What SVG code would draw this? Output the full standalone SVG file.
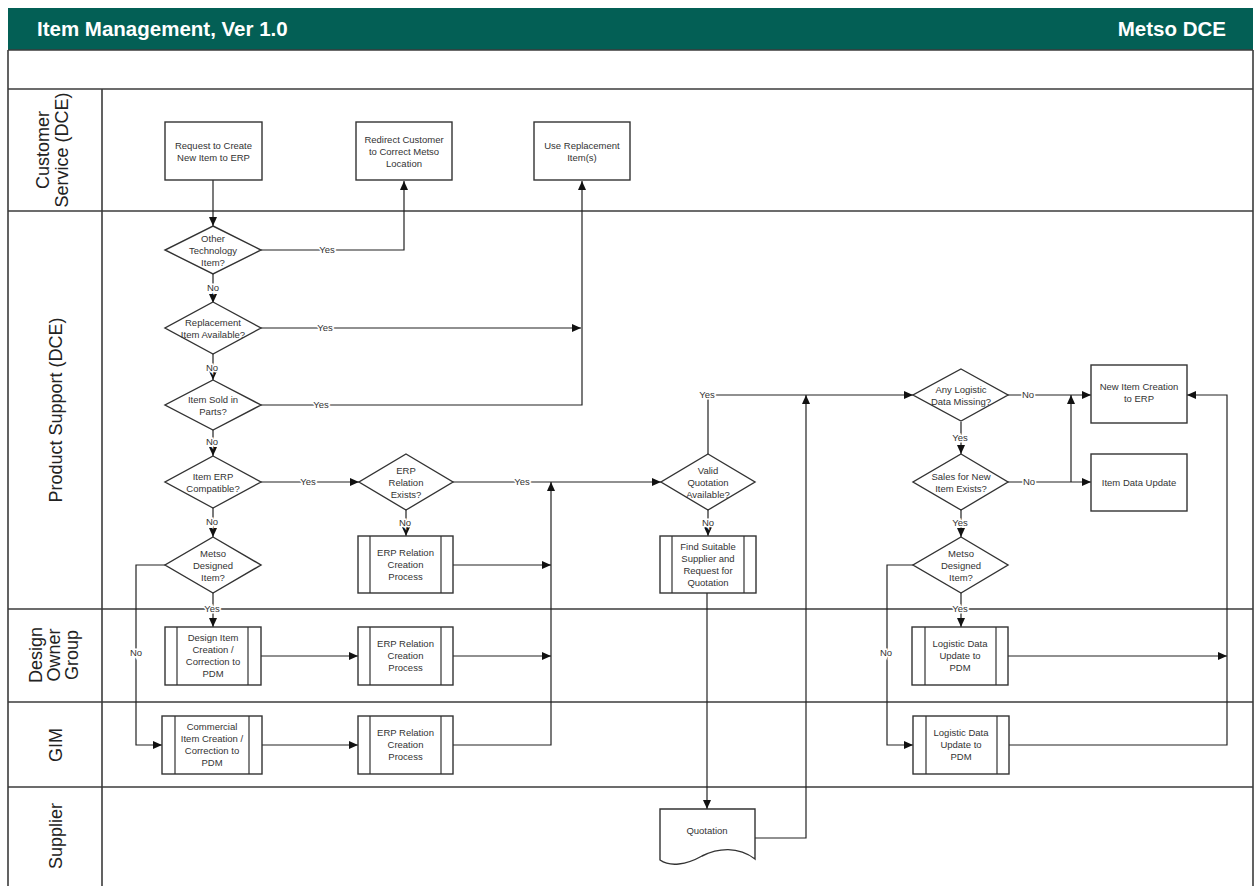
<svg xmlns="http://www.w3.org/2000/svg" width="1259" height="886" viewBox="0 0 1259 886">
  <style>
    .lane { stroke: #3c3c3c; stroke-width: 1.6; fill: none; }
    .lanelbl { font-family: "Liberation Sans", Arial, sans-serif; font-size: 18px; fill: #222; text-anchor: middle; }
    .title { font-family: "Liberation Sans", Arial, sans-serif; font-weight: bold; font-size: 20.5px; fill: #fff; }
    .box { fill: #fff; stroke: #333; stroke-width: 1.4; }
    .bar { stroke: #333; stroke-width: 1.2; }
    .t { font-family: "Liberation Sans", Arial, sans-serif; font-size: 9.5px; fill: #333; text-anchor: middle; }
    .conn path { fill: none; stroke: #222; stroke-width: 1.2; }
    .conn path.arr { marker-end: url(#ah); }
    .lbl { font-family: "Liberation Sans", Arial, sans-serif; font-size: 9.5px; fill: #333; text-anchor: middle; stroke: #fff; stroke-width: 3; paint-order: stroke; }
  </style>
  <defs>
    <marker id="ah" markerUnits="userSpaceOnUse" markerWidth="10" markerHeight="8" refX="9" refY="4" orient="auto">
      <path d="M0,0 L9,4 L0,8 z" fill="#111"/>
    </marker>
  </defs>

  <rect width="1259" height="886" fill="#fff"/>

  <!-- header bar -->
  <g id="header">
    <rect x="8" y="8" width="1245" height="42" fill="#035f55"/>
    <text class="title" x="37" y="36">Item Management, Ver 1.0</text>
    <text class="title" x="1226" y="36" text-anchor="end">Metso DCE</text>
  </g>

  <!-- swimlane frame -->
  <g id="lanes">
    <path class="lane" d="M8,50 H1253 M8,89 H1253 M8,211 H1253 M8,609 H1253 M8,702 H1253 M8,787 H1253"/>
    <path class="lane" d="M8,50 V886 M1253,50 V886 M102,89 V886"/>
    <text class="lanelbl" transform="translate(0,150) rotate(-90)"><tspan x="0" y="49">Customer</tspan><tspan x="0" y="68">Service (DCE)</tspan></text>
    <text class="lanelbl" transform="translate(0,410) rotate(-90)"><tspan x="0" y="62">Product Support (DCE)</tspan></text>
    <text class="lanelbl" transform="translate(0,655) rotate(-90)"><tspan x="0" y="42">Design</tspan><tspan x="0" y="60">Owner</tspan><tspan x="0" y="78">Group</tspan></text>
    <text class="lanelbl" transform="translate(0,745) rotate(-90)"><tspan x="0" y="62">GIM</tspan></text>
    <text class="lanelbl" transform="translate(0,836) rotate(-90)"><tspan x="0" y="62">Supplier</tspan></text>
  </g>

  <!-- connectors -->
  <g id="connectors" class="conn">
    <path class="arr" d="M213,180 V226"/>
    <path class="arr" d="M261,250 H404 V181"/>
    <path class="arr" d="M213,274 V303"/>
    <path class="arr" d="M261,328 H581"/>
    <path class="arr" d="M261,405 H582 V181"/>
    <path class="arr" d="M213,353 V380"/>
    <path class="arr" d="M213,430 V456"/>
    <path class="arr" d="M261,482 H359"/>
    <path class="arr" d="M213,508 V537"/>
    <path class="arr" d="M213,593 V627"/>
    <path class="arr" d="M165,565 H136 V745 H162"/>
    <path class="arr" d="M406,510 V536"/>
    <path class="arr" d="M453,482 H661"/>
    <path class="arr" d="M453,565 H551"/>
    <path class="arr" d="M261,656 H358"/>
    <path class="arr" d="M453,656 H551"/>
    <path class="arr" d="M262,745 H358"/>
    <path class="arr" d="M453,745 H551 V482"/>
    <path class="arr" d="M708,510 V536"/>
    <path class="arr" d="M708,454 V395 H913"/>
    <path class="arr" d="M707,593 V809"/>
    <path class="arr" d="M755,838 H806 V395"/>
    <path class="arr" d="M1008,395 H1091"/>
    <path class="arr" d="M961,422 V454"/>
    <path class="arr" d="M1008,482 H1091"/>
    <path class="arr" d="M1071,482 V395"/>
    <path class="arr" d="M961,510 V537"/>
    <path class="arr" d="M961,593 V627"/>
    <path class="arr" d="M913,565 H887 V745 H913"/>
    <path class="arr" d="M1008,656 H1227"/>
    <path class="arr" d="M1009,745 H1227 V395 H1187"/>

    <text class="lbl" x="327" y="253">Yes</text>
    <text class="lbl" x="213" y="291">No</text>
    <text class="lbl" x="325" y="331">Yes</text>
    <text class="lbl" x="212" y="371">No</text>
    <text class="lbl" x="321" y="408">Yes</text>
    <text class="lbl" x="212" y="445">No</text>
    <text class="lbl" x="308" y="485">Yes</text>
    <text class="lbl" x="212" y="525">No</text>
    <text class="lbl" x="212" y="612">Yes</text>
    <text class="lbl" x="136" y="656">No</text>
    <text class="lbl" x="405" y="526">No</text>
    <text class="lbl" x="522" y="485">Yes</text>
    <text class="lbl" x="708" y="526">No</text>
    <text class="lbl" x="707" y="398">Yes</text>
    <text class="lbl" x="1028" y="398">No</text>
    <text class="lbl" x="960" y="441">Yes</text>
    <text class="lbl" x="1029" y="485">No</text>
    <text class="lbl" x="960" y="526">Yes</text>
    <text class="lbl" x="960" y="612">Yes</text>
    <text class="lbl" x="886" y="656">No</text>
  </g>

  <!-- Customer Service lane -->
  <g id="request-new-item">
    <rect class="box" x="165" y="122" width="97" height="58"/>
    <text class="t"><tspan x="213.5" y="148.5">Request to Create</tspan><tspan x="213.5" y="160.5">New Item to ERP</tspan></text>
  </g>
  <g id="redirect-customer">
    <rect class="box" x="356" y="122" width="96" height="58"/>
    <text class="t"><tspan x="404" y="142.5">Redirect Customer</tspan><tspan x="404" y="154.5">to Correct Metso</tspan><tspan x="404" y="166.5">Location</tspan></text>
  </g>
  <g id="use-replacement">
    <rect class="box" x="534" y="122" width="96" height="58"/>
    <text class="t"><tspan x="582" y="148.5">Use Replacement</tspan><tspan x="582" y="160.5">Item(s)</tspan></text>
  </g>

  <!-- Product Support lane -->
  <g id="other-technology">
    <path class="box" d="M213,226 L261,250 L213,274 L165,250 Z"/>
    <text class="t"><tspan x="213" y="241.5">Other</tspan><tspan x="213" y="253.5">Technology</tspan><tspan x="213" y="265.5">Item?</tspan></text>
  </g>
  <g id="replacement-available">
    <path class="box" d="M213,302 L261,328 L213,354 L165,328 Z"/>
    <text class="t"><tspan x="213" y="325.5">Replacement</tspan><tspan x="213" y="337.5">Item Available?</tspan></text>
  </g>
  <g id="sold-in-parts">
    <path class="box" d="M213,380 L261,405 L213,430 L165,405 Z"/>
    <text class="t"><tspan x="213" y="402.5">Item Sold in</tspan><tspan x="213" y="414.5">Parts?</tspan></text>
  </g>
  <g id="erp-compatible">
    <path class="box" d="M213,456 L261,482 L213,508 L165,482 Z"/>
    <text class="t"><tspan x="213" y="479.5">Item ERP</tspan><tspan x="213" y="491.5">Compatible?</tspan></text>
  </g>
  <g id="metso-designed-1">
    <path class="box" d="M213,537 L261,565 L213,593 L165,565 Z"/>
    <text class="t"><tspan x="213" y="556.5">Metso</tspan><tspan x="213" y="568.5">Designed</tspan><tspan x="213" y="580.5">Item?</tspan></text>
  </g>
  <g id="erp-relation-exists">
    <path class="box" d="M406,454 L453,482 L406,510 L359,482 Z"/>
    <text class="t"><tspan x="406" y="473.5">ERP</tspan><tspan x="406" y="485.5">Relation</tspan><tspan x="406" y="497.5">Exists?</tspan></text>
  </g>
  <g id="erp-relation-process-1">
    <rect class="box" x="358" y="536" width="95" height="57"/>
    <path class="bar" d="M370,536 V593 M441,536 V593"/>
    <text class="t"><tspan x="405.5" y="555.5">ERP Relation</tspan><tspan x="405.5" y="567.5">Creation</tspan><tspan x="405.5" y="579.5">Process</tspan></text>
  </g>
  <g id="valid-quotation">
    <path class="box" d="M708,454 L755,482 L708,510 L661,482 Z"/>
    <text class="t"><tspan x="708" y="473.5">Valid</tspan><tspan x="708" y="485.5">Quotation</tspan><tspan x="708" y="497.5">Available?</tspan></text>
  </g>
  <g id="find-supplier">
    <rect class="box" x="660" y="536" width="96" height="57"/>
    <path class="bar" d="M672,536 V593 M744,536 V593"/>
    <text class="t"><tspan x="708" y="549.5">Find Suitable</tspan><tspan x="708" y="561.5">Supplier and</tspan><tspan x="708" y="573.5">Request for</tspan><tspan x="708" y="585.5">Quotation</tspan></text>
  </g>
  <g id="logistic-data-missing">
    <path class="box" d="M961,369 L1008,395 L961,421 L913,395 Z"/>
    <text class="t"><tspan x="961" y="392.5">Any Logistic</tspan><tspan x="961" y="404.5">Data Missing?</tspan></text>
  </g>
  <g id="sales-exists">
    <path class="box" d="M961,454 L1008,482 L961,510 L913,482 Z"/>
    <text class="t"><tspan x="961" y="479.5">Sales for New</tspan><tspan x="961" y="491.5">Item Exists?</tspan></text>
  </g>
  <g id="metso-designed-2">
    <path class="box" d="M961,537 L1008,565 L961,593 L913,565 Z"/>
    <text class="t"><tspan x="961" y="556.5">Metso</tspan><tspan x="961" y="568.5">Designed</tspan><tspan x="961" y="580.5">Item?</tspan></text>
  </g>
  <g id="new-item-creation">
    <rect class="box" x="1091" y="365" width="96" height="58"/>
    <text class="t"><tspan x="1139" y="389.5">New Item Creation</tspan><tspan x="1139" y="401.5">to ERP</tspan></text>
  </g>
  <g id="item-data-update">
    <rect class="box" x="1091" y="454" width="96" height="57"/>
    <text class="t"><tspan x="1139" y="485.5">Item Data Update</tspan></text>
  </g>

  <!-- Design Owner Group lane -->
  <g id="design-item-creation">
    <rect class="box" x="165" y="627" width="96" height="58"/>
    <path class="bar" d="M177,627 V685 M248,627 V685"/>
    <text class="t"><tspan x="213" y="640.5">Design Item</tspan><tspan x="213" y="652.5">Creation /</tspan><tspan x="213" y="664.5">Correction to</tspan><tspan x="213" y="676.5">PDM</tspan></text>
  </g>
  <g id="erp-relation-process-2">
    <rect class="box" x="358" y="627" width="95" height="58"/>
    <path class="bar" d="M370,627 V685 M441,627 V685"/>
    <text class="t"><tspan x="405.5" y="646.5">ERP Relation</tspan><tspan x="405.5" y="658.5">Creation</tspan><tspan x="405.5" y="670.5">Process</tspan></text>
  </g>
  <g id="logistic-update-1">
    <rect class="box" x="912" y="627" width="96" height="58"/>
    <path class="bar" d="M925,627 V685 M996,627 V685"/>
    <text class="t"><tspan x="960" y="646.5">Logistic Data</tspan><tspan x="960" y="658.5">Update to</tspan><tspan x="960" y="670.5">PDM</tspan></text>
  </g>

  <!-- GIM lane -->
  <g id="commercial-item-creation">
    <rect class="box" x="162" y="716" width="100" height="58"/>
    <path class="bar" d="M175,716 V774 M249,716 V774"/>
    <text class="t"><tspan x="212" y="729.5">Commercial</tspan><tspan x="212" y="741.5">Item Creation /</tspan><tspan x="212" y="753.5">Correction to</tspan><tspan x="212" y="765.5">PDM</tspan></text>
  </g>
  <g id="erp-relation-process-3">
    <rect class="box" x="358" y="716" width="95" height="58"/>
    <path class="bar" d="M370,716 V774 M441,716 V774"/>
    <text class="t"><tspan x="405.5" y="735.5">ERP Relation</tspan><tspan x="405.5" y="747.5">Creation</tspan><tspan x="405.5" y="759.5">Process</tspan></text>
  </g>
  <g id="logistic-update-2">
    <rect class="box" x="913" y="716" width="96" height="58"/>
    <path class="bar" d="M926,716 V774 M997,716 V774"/>
    <text class="t"><tspan x="961" y="735.5">Logistic Data</tspan><tspan x="961" y="747.5">Update to</tspan><tspan x="961" y="759.5">PDM</tspan></text>
  </g>

  <!-- Supplier lane -->
  <g id="quotation">
    <path class="box" d="M660,809 H755 V859 C738,846 718,848 702,856 C686,865 670,867 660,860 Z"/>
    <text class="t" x="707" y="834">Quotation</text>
  </g>
</svg>
